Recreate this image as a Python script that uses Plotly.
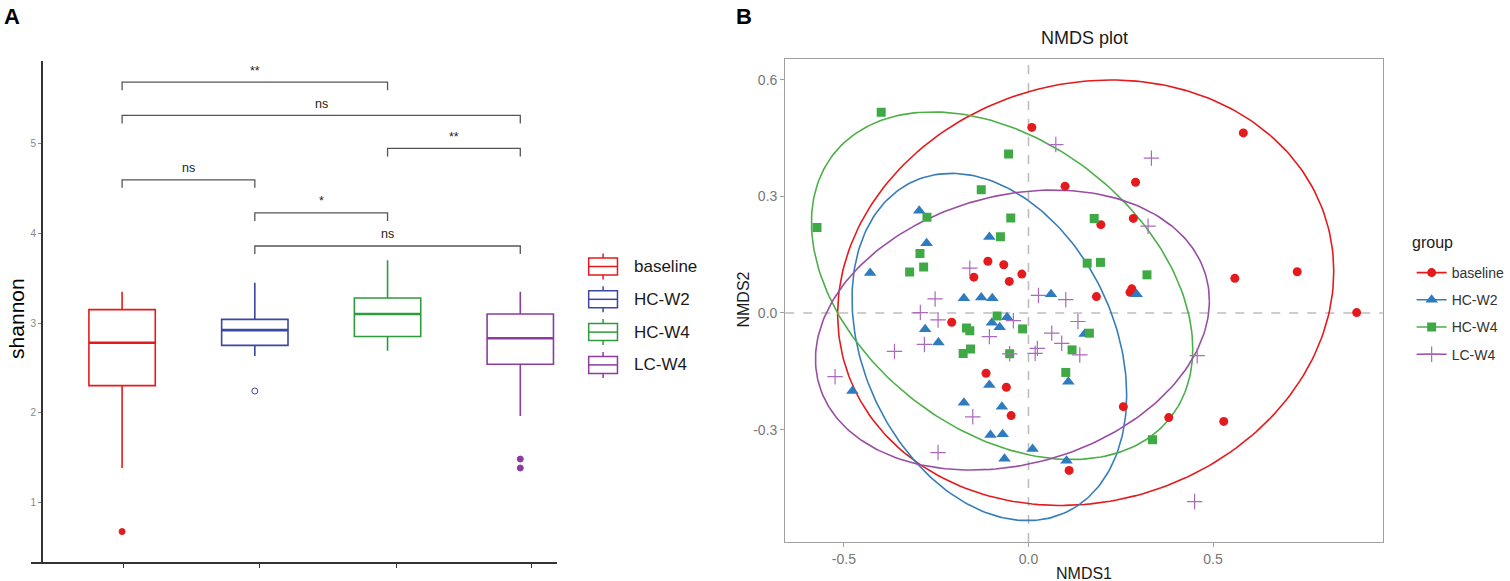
import numpy as np
import plotly.graph_objects as go

W, H = 1510, 581

# ---------------- Panel A data (shannon index boxplots) ----------------
groups = ['baseline', 'HC-W2', 'HC-W4', 'LC-W4']
upper_whisker = [3.35, 3.45, 3.70, 3.35]
q3_vals = [3.15, 3.04, 3.28, 3.10]
median_vals = [2.78, 2.92, 3.10, 2.83]
q1_vals = [2.30, 2.75, 2.85, 2.54]
lower_whisker = [1.38, 2.63, 2.69, 1.96]
outlier_group = ['baseline', 'HC-W2', 'LC-W4', 'LC-W4']
outlier_value = [0.67, 2.24, 1.48, 1.38]

bracket_left = ['baseline', 'baseline', 'HC-W4', 'baseline', 'HC-W2', 'HC-W2']
bracket_right = ['HC-W4', 'LC-W4', 'LC-W4', 'HC-W2', 'HC-W4', 'LC-W4']
bracket_level = [5.69, 5.32, 4.95, 4.60, 4.23, 3.86]
bracket_label = ['**', 'ns', '**', 'ns', '*', 'ns']

# ---------------- Panel B data (NMDS scores) ----------------
baseline_x = [0.009, 0.099, -0.110, -0.067, -0.018, -0.148, -0.052, 0.582, 0.290, 0.284,
              0.196, 0.728, 0.559, 0.184, 0.280, 0.275, 0.889, -0.208, -0.115, -0.060,
              -0.047, 0.110, 0.257, 0.380, 0.529]
baseline_y = [0.477, 0.326, 0.133, 0.124, 0.100, 0.092, 0.081, 0.463, 0.336, 0.243,
              0.227, 0.106, 0.089, 0.042, 0.062, 0.053, 0.001, -0.024, -0.155, -0.191,
              -0.264, -0.405, -0.241, -0.269, -0.279]
hcw2_x = [-0.296, -0.276, -0.429, -0.106, -0.175, -0.128, -0.098, 0.061, 0.293, -0.280,
          -0.244, -0.099, -0.078, -0.058, -0.477, -0.106, -0.175, -0.072, -0.103, -0.070,
          -0.065, 0.011, 0.103, 0.108, 0.152]
hcw2_y = [0.263, 0.179, 0.103, 0.195, 0.038, 0.040, 0.038, 0.048, 0.048, -0.042,
          -0.076, -0.025, -0.037, -0.011, -0.201, -0.185, -0.231, -0.241, -0.314, -0.312,
          -0.375, -0.350, -0.380, -0.177, -0.054]
hcw4_x = [-0.399, -0.573, -0.054, -0.128, -0.275, -0.048, -0.076, -0.294, -0.322, -0.284,
          0.178, 0.195, 0.159, 0.321, -0.085, -0.168, -0.159, -0.016, -0.177, -0.157,
          -0.051, 0.118, 0.101, 0.165, 0.336]
hcw4_y = [0.516, 0.220, 0.409, 0.317, 0.246, 0.244, 0.196, 0.153, 0.105, 0.118,
          0.243, 0.130, 0.128, 0.098, -0.008, -0.039, -0.046, -0.041, -0.104, -0.093,
          -0.105, -0.095, -0.153, -0.052, -0.326]
lcw4_x = [0.074, -0.159, -0.253, 0.027, 0.101, 0.333, 0.324, -0.293, -0.245, -0.282,
          -0.363, -0.524, -0.106, -0.051, -0.151, -0.245, 0.024, 0.018, 0.063, 0.090,
          0.134, 0.139, -0.041, 0.457, 0.450]
lcw4_y = [0.433, 0.115, 0.036, 0.045, 0.034, 0.398, 0.223, 0.001, -0.018, -0.081,
          -0.099, -0.164, -0.061, -0.105, -0.267, -0.359, -0.091, -0.104, -0.052, -0.078,
          -0.022, -0.108, -0.020, -0.110, -0.485]

# 95% ellipse parameters: centre, half extents, cross term
ell_cx = [0.155, -0.106, -0.0715, -0.0435]
ell_cy = [0.052, -0.0875, 0.070, -0.044]
ell_wx = [0.672, 0.372, 0.5165, 0.5335]
ell_wy = [0.547, 0.4465, 0.447, 0.360]
ell_cxy = [0.037, -0.046, -0.084, 0.040]

# ---------------- styles ----------------
box_colors = ['#E41A1C', '#3B47A3', '#2E9B3C', '#8E3B9E']
nmds_colors = ['#E41A1C', '#377EB8', '#4DAF4A', '#984EA3']
marker_colors = ['#E41A1C', '#2F7BC0', '#3FAA45', '#AA6ABB']
nmds_symbols = ['circle', 'triangle-up', 'square', 'cross-thin']
nmds_sizes = [9, 11, 9, 11]
FONT = 'Arial, Liberation Sans, Helvetica, sans-serif'

def px_x(p):
    return p / W

def px_y(p):
    return 1 - p / H

pos = {g: i + 1 for i, g in enumerate(groups)}

fig = go.Figure()

# ---------------- Panel A ----------------
for i, g in enumerate(groups):
    fig.add_trace(go.Box(
        x=[pos[g]], q1=[q1_vals[i]], median=[median_vals[i]], q3=[q3_vals[i]],
        lowerfence=[lower_whisker[i]], upperfence=[upper_whisker[i]],
        width=0.5, whiskerwidth=0, fillcolor='rgba(255,255,255,0)',
        line=dict(color=box_colors[i], width=1.6), name=g, showlegend=False,
        hoverinfo='skip', xaxis='x', yaxis='y'))
    fig.add_trace(go.Scatter(
        x=[pos[g] - 0.25, pos[g] + 0.25], y=[median_vals[i], median_vals[i]],
        mode='lines', line=dict(color=box_colors[i], width=2.6),
        showlegend=False, hoverinfo='skip', xaxis='x', yaxis='y'))

for g, v in zip(outlier_group, outlier_value):
    i = groups.index(g)
    sym = 'circle-open' if g == 'HC-W2' else 'circle'
    fig.add_trace(go.Scatter(
        x=[pos[g]], y=[v], mode='markers',
        marker=dict(symbol=sym, size=6, color=box_colors[i], line=dict(width=1, color=box_colors[i])),
        showlegend=False, hoverinfo='skip', xaxis='x', yaxis='y'))

shapes = []
annotations = []
tip = 0.09
for l, r, lev, lab in zip(bracket_left, bracket_right, bracket_level, bracket_label):
    xl, xr = pos[l], pos[r]
    shapes.append(dict(type='path', xref='x', yref='y',
                       path=f'M {xl},{lev - tip} L {xl},{lev} L {xr},{lev} L {xr},{lev - tip}',
                       line=dict(color='#555555', width=1.3)))
    annotations.append(dict(x=(xl + xr) / 2, y=lev + 0.03, xref='x', yref='y', text=lab,
                            showarrow=False, yanchor='bottom',
                            font=dict(family=FONT, size=12.5, color='#222222')))

# manual legend for panel A (box glyphs)
for i, g in enumerate(groups):
    yc = 266.5 + 32.8 * i
    c = box_colors[i]
    shapes.append(dict(type='rect', xref='paper', yref='paper',
                       x0=px_x(593), x1=px_x(622), y0=px_y(yc + 8.5), y1=px_y(yc - 8.5),
                       line=dict(color=c, width=1.5), fillcolor='white'))
    shapes.append(dict(type='line', xref='paper', yref='paper',
                       x0=px_x(593), x1=px_x(622), y0=px_y(yc), y1=px_y(yc),
                       line=dict(color=c, width=1.5)))
    shapes.append(dict(type='line', xref='paper', yref='paper',
                       x0=px_x(607.5), x1=px_x(607.5), y0=px_y(yc - 8.5), y1=px_y(yc - 13),
                       line=dict(color=c, width=1.5)))
    shapes.append(dict(type='line', xref='paper', yref='paper',
                       x0=px_x(607.5), x1=px_x(607.5), y0=px_y(yc + 8.5), y1=px_y(yc + 13),
                       line=dict(color=c, width=1.5)))
    annotations.append(dict(x=px_x(637), y=px_y(yc), xref='paper', yref='paper', text=g,
                            showarrow=False, xanchor='left', yanchor='middle',
                            font=dict(family=FONT, size=17, color='#1a1a1a')))

# ---------------- Panel B ----------------
t = np.linspace(0, 2 * np.pi, 240)
for i in range(4):
    l11 = ell_wx[i]
    l21 = ell_cxy[i] / l11
    l22 = np.sqrt(ell_wy[i] ** 2 - l21 ** 2)
    ex = ell_cx[i] + l11 * np.cos(t)
    ey = ell_cy[i] + l21 * np.cos(t) + l22 * np.sin(t)
    fig.add_trace(go.Scatter(x=ex, y=ey, mode='lines',
                             line=dict(color=nmds_colors[i], width=1.6),
                             showlegend=False, hoverinfo='skip', xaxis='x2', yaxis='y2'))

series = [(baseline_x, baseline_y), (hcw2_x, hcw2_y), (hcw4_x, hcw4_y), (lcw4_x, lcw4_y)]
for i, (sx, sy) in enumerate(series):
    mk = dict(symbol=nmds_symbols[i], size=nmds_sizes[i], color=marker_colors[i])
    if nmds_symbols[i] == 'cross-thin':
        mk['line'] = dict(color=marker_colors[i], width=1.2)
    fig.add_trace(go.Scatter(x=sx, y=sy, mode='markers', marker=mk, showlegend=False,
                             hoverinfo='skip', xaxis='x2', yaxis='y2'))
    # legend entry (line + point as in the ggplot key)
    fig.add_trace(go.Scatter(x=[None], y=[None], mode='lines+markers', marker=mk,
                             line=dict(color=nmds_colors[i], width=1.6), name=groups[i],
                             legend='legend2', legendgroup=groups[i], showlegend=True,
                             xaxis='x2', yaxis='y2'))

# dashed reference lines
shapes.append(dict(type='line', xref='x2', yref='y2 domain', x0=0, x1=0, y0=0, y1=1,
                   line=dict(color='#BDBDBD', width=1.6, dash='dash'), layer='below'))
shapes.append(dict(type='line', xref='x2 domain', yref='y2', x0=0, x1=1, y0=0, y1=0,
                   line=dict(color='#BDBDBD', width=1.6, dash='dash'), layer='below'))

# titles / labels
annotations += [
    dict(x=px_x(2), y=px_y(16), xref='paper', yref='paper', text='<b>A</b>', showarrow=False,
         xanchor='left', yanchor='middle', font=dict(family=FONT, size=22, color='black')),
    dict(x=px_x(739), y=px_y(16), xref='paper', yref='paper', text='<b>B</b>', showarrow=False,
         xanchor='left', yanchor='middle', font=dict(family=FONT, size=22, color='black')),
    dict(x=px_x(16), y=px_y(318), xref='paper', yref='paper', text='shannon', showarrow=False,
         textangle=-90, xanchor='center', yanchor='middle',
         font=dict(family=FONT, size=21, color='black')),
    dict(x=px_x(1092), y=px_y(38), xref='paper', yref='paper', text='NMDS plot', showarrow=False,
         xanchor='center', yanchor='middle', font=dict(family=FONT, size=18, color='#1a1a1a')),
    dict(x=px_x(1092), y=px_y(573), xref='paper', yref='paper', text='NMDS1', showarrow=False,
         xanchor='center', yanchor='middle', font=dict(family=FONT, size=16, color='#1a1a1a')),
    dict(x=px_x(748), y=px_y(300), xref='paper', yref='paper', text='NMDS2', showarrow=False,
         textangle=-90, xanchor='center', yanchor='middle',
         font=dict(family=FONT, size=16, color='#1a1a1a')),
    dict(x=px_x(1420), y=px_y(242), xref='paper', yref='paper', text='group', showarrow=False,
         xanchor='left', yanchor='middle', font=dict(family=FONT, size=16, color='#1a1a1a')),
]

fig.update_layout(
    width=W, height=H, margin=dict(l=0, r=0, t=0, b=0),
    paper_bgcolor='white', plot_bgcolor='white',
    font=dict(family=FONT),
    xaxis=dict(domain=[px_x(31), px_x(561)], range=[0.312, 4.276], anchor='y',
               showline=True, linecolor='#333333', linewidth=1.5,
               tickvals=[1.007, 2.039, 3.064, 4.082], ticktext=['', '', '', ''],
               ticks='outside', ticklen=4, tickcolor='#333333', showgrid=False, zeroline=False),
    yaxis=dict(domain=[px_y(562), px_y(61)], range=[0.33, 5.927], anchor='free',
               position=px_x(42), showline=True, linecolor='#333333', linewidth=1.5,
               tickvals=[1, 2, 3, 4, 5], ticks='outside', ticklen=3, tickcolor='#888888',
               tickfont=dict(size=10, color='#888888'), showgrid=False, zeroline=False),
    xaxis2=dict(domain=[px_x(791), px_x(1393)], range=[-0.659, 0.960], anchor='y2',
                showline=True, mirror=True, linecolor='#A0A0A0', linewidth=1.2,
                tickvals=[-0.5, 0.0, 0.5], ticktext=['-0.5', '0.0', '0.5'],
                ticks='outside', ticklen=4, tickcolor='#A0A0A0',
                tickfont=dict(size=14, color='#777777'), showgrid=False, zeroline=False),
    yaxis2=dict(domain=[px_y(542), px_y(59)], range=[-0.589, 0.653], anchor='x2',
                showline=True, mirror=True, linecolor='#A0A0A0', linewidth=1.2,
                tickvals=[-0.3, 0.0, 0.3, 0.6], ticktext=['-0.3', '0.0', '0.3', '0.6'],
                ticks='outside', ticklen=4, tickcolor='#A0A0A0',
                tickfont=dict(size=14, color='#777777'), showgrid=False, zeroline=False),
    legend2=dict(x=px_x(1422), y=px_y(257), xanchor='left', yanchor='top',
                 font=dict(size=14, color='#333333'), tracegroupgap=6,
                 bgcolor='rgba(0,0,0,0)', traceorder='grouped', itemwidth=30),
    shapes=shapes, annotations=annotations,
)

fig.write_html('out.html', config={'displayModeBar': False},
               post_script="document.body.style.margin='0px';document.body.style.overflow='hidden';")
